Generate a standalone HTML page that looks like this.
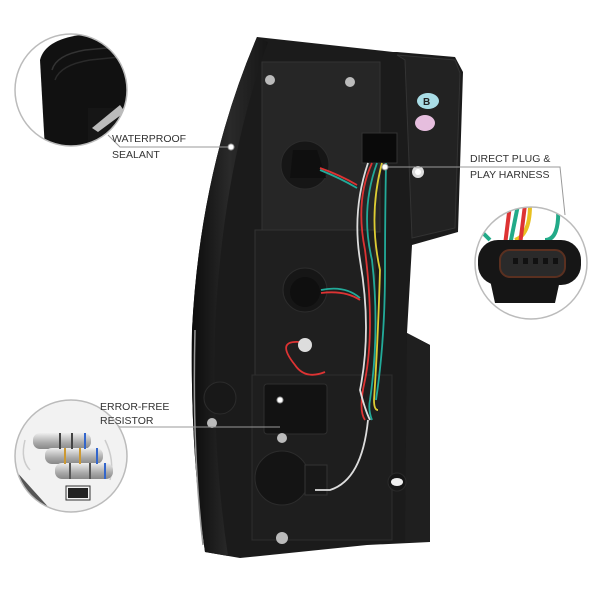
<!DOCTYPE html>
<html><head><meta charset="utf-8"><style>
html,body{margin:0;padding:0;background:#fff;width:600px;height:600px;overflow:hidden}
svg{display:block}
text{font-family:"Liberation Sans",sans-serif;font-size:10.5px;fill:#333}
</style></head><body>
<svg width="600" height="600" viewBox="0 0 600 600">
<defs>
<linearGradient id="lens" x1="0" x2="1"><stop offset="0" stop-color="#0c0c0c"/><stop offset="0.5" stop-color="#2a2a2a"/><stop offset="1" stop-color="#161616"/></linearGradient>
<linearGradient id="res" x1="0" x2="0" y1="0" y2="1"><stop offset="0" stop-color="#eee"/><stop offset="0.6" stop-color="#aaa"/><stop offset="1" stop-color="#888"/></linearGradient>
<clipPath id="k1"><circle cx="71" cy="90" r="56"/></clipPath>
<clipPath id="k2"><circle cx="531" cy="263" r="56"/></clipPath>
<clipPath id="k3"><circle cx="71" cy="456" r="56"/></clipPath>
</defs>
<!-- body -->
<path d="M257 37 L393 52 L397 52 L455 57 L463 72 L458 232 L412 245 L407 333 L430 345 L430 542 L367 545 L240 558 L205 552 Q190 450 192 330 Q200 170 257 37 Z" fill="#1b1b1b"/>
<path d="M205 552 Q190 450 192 330 Q200 170 257 37 L268 42 Q222 170 215 330 Q212 450 228 556 Z" fill="url(#lens)"/>
<path d="M203 545 Q192 450 195 330" stroke="#999" stroke-width="1.5" fill="none"/>
<path d="M397 55 L455 60 L460 73 L455 228 L412 238 L405 60 Z" fill="#222" stroke="#333"/>
<path d="M407 333 L430 345 L430 542 L405 542 Z" fill="#1f1f1f"/>
<rect x="262" y="62" width="118" height="170" fill="#262626" stroke="#333"/>
<rect x="255" y="230" width="120" height="145" fill="#1f1f1f" stroke="#333"/>
<rect x="252" y="375" width="140" height="165" fill="#1e1e1e" stroke="#2e2e2e"/>
<circle cx="305" cy="165" r="24" fill="#161616" stroke="#2c2c2c"/>
<path d="M293 150 L317 150 L326 178 L290 178 Z" fill="#0f0f0f"/>
<circle cx="305" cy="290" r="22" fill="#161616" stroke="#2c2c2c"/>
<circle cx="305" cy="292" r="15" fill="#0f0f0f"/>
<circle cx="282" cy="478" r="27" fill="#141414" stroke="#2c2c2c"/>
<rect x="305" y="465" width="22" height="30" fill="#181818" stroke="#333"/>
<rect x="264" y="384" width="63" height="50" rx="3" fill="#121212" stroke="#2f2f2f"/>
<circle cx="220" cy="398" r="16" fill="#181818" stroke="#2c2c2c"/>
<ellipse cx="428" cy="101" rx="11" ry="8" fill="#a9dde6"/>
<text x="423" y="105" style="font-size:10px;font-weight:bold;fill:#222">B</text>
<ellipse cx="425" cy="123" rx="10" ry="8" fill="#e6bede"/>
<rect x="362" y="133" width="35" height="30" fill="#0a0a0a" stroke="#333"/>
<!-- wires -->
<g fill="none" stroke-width="1.8">
<path d="M372 163 Q355 200 365 250 Q375 330 365 380 Q358 410 365 420" stroke="#d33"/>
<path d="M377 163 Q360 210 372 260 Q380 330 370 400 Q368 410 372 420" stroke="#2a9"/>
<path d="M382 163 Q368 215 380 270 Q378 340 374 400 Q374 410 378 410" stroke="#dc3"/>
<path d="M368 163 Q352 210 360 260 Q372 330 360 390 Q365 410 370 420" stroke="#ddd"/>
<path d="M386 163 Q385 220 385 270 Q385 340 376 400" stroke="#2a9"/>
<path d="M320 168 Q340 175 357 185" stroke="#d33"/>
<path d="M320 170 Q340 178 357 188" stroke="#2a9"/>
<path d="M321 290 Q345 285 360 298" stroke="#2a9"/>
<path d="M321 293 Q345 290 360 300" stroke="#d33"/>
<path d="M300 342 Q275 340 295 365 Q305 380 325 372" stroke="#d33"/>
<path d="M368 420 Q362 480 330 490 L315 490" stroke="#ddd"/>
</g>
<circle cx="305" cy="345" r="7" fill="#ddd"/>
<g fill="#bbb"><circle cx="270" cy="80" r="5"/><circle cx="350" cy="82" r="5"/><circle cx="212" cy="423" r="5"/><circle cx="282" cy="438" r="5"/><circle cx="282" cy="538" r="6"/></g>
<circle cx="397" cy="482" r="9" fill="#151515" stroke="#2a2a2a"/>
<ellipse cx="397" cy="482" rx="6" ry="4" fill="#eee"/>
<circle cx="418" cy="172" r="6" fill="#ddd"/><circle cx="418" cy="172" r="3" fill="#fff"/>
<!-- leader lines -->
<g stroke="#999" stroke-width="1" fill="none">
<path d="M108 135 L120 147 L230 147"/>
<path d="M385 167 L560 167 L565 215"/>
<path d="M110 420 L120 427 L280 427"/>
</g>
<g fill="#fff" stroke="#999"><circle cx="231" cy="147" r="3"/><circle cx="385" cy="167" r="3"/><circle cx="280" cy="400" r="3"/></g>
<!-- callout 1 -->
<circle cx="71" cy="90" r="56" fill="#fff"/>
<g clip-path="url(#k1)">
<path d="M40 60 Q45 40 80 35 L140 30 L140 150 L45 150 Z" fill="#111"/>
<path d="M52 70 Q56 55 85 50 L140 45" stroke="#333" stroke-width="1.5" fill="none"/>
<path d="M55 80 Q60 65 90 60 L140 55" stroke="#2a2a2a" stroke-width="1.5" fill="none"/>
<path d="M88 108 L130 108 L130 150 L88 150 Z" fill="#1a1a1a" opacity="0.6"/>
<path d="M92 128 L120 105 L125 112 L98 132 Z" fill="#bbb"/>
</g>
<circle cx="71" cy="90" r="56" fill="none" stroke="#bbb" stroke-width="1.5"/>
<!-- callout 2 -->
<circle cx="531" cy="263" r="56" fill="#fff"/>
<g clip-path="url(#k2)">
<g fill="none" stroke-width="4">
<path d="M505 245 L510 205" stroke="#d33"/><path d="M510 245 L518 205" stroke="#2a8"/>
<path d="M515 240 Q530 235 530 205" stroke="#e8c020"/><path d="M520 245 L525 205" stroke="#d33"/>
<path d="M545 240 Q560 240 558 205" stroke="#2a8"/><path d="M490 240 L480 230" stroke="#2a8"/>
</g>
<rect x="478" y="240" width="103" height="45" rx="20" fill="#161616"/>
<rect x="500" y="250" width="65" height="27" rx="10" fill="#2a2a2a" stroke="#5a3020" stroke-width="2"/>
<g fill="#111"><rect x="513" y="258" width="5" height="6"/><rect x="523" y="258" width="5" height="6"/><rect x="533" y="258" width="5" height="6"/><rect x="543" y="258" width="5" height="6"/><rect x="553" y="258" width="5" height="6"/></g>
<path d="M490 280 L560 280 L555 303 L495 303 Z" fill="#151515"/>
</g>
<circle cx="531" cy="263" r="56" fill="none" stroke="#bbb" stroke-width="1.5"/>
<!-- callout 3 -->
<circle cx="71" cy="456" r="56" fill="#f2f2f2"/>
<g clip-path="url(#k3)">
<path d="M15 470 L60 520 L50 520 L15 480 Z" fill="#555"/>
<g stroke="#ccc" stroke-width="1.5" fill="none"><path d="M25 440 Q20 460 30 470"/><path d="M105 440 Q115 460 110 480"/></g>
<rect x="33" y="433" width="58" height="16" rx="7" fill="url(#res)"/>
<rect x="45" y="448" width="58" height="16" rx="7" fill="url(#res)"/>
<rect x="55" y="463" width="58" height="16" rx="7" fill="url(#res)"/>
<g stroke-width="2"><path d="M60 433 V449 M72 433 V449" stroke="#444"/><path d="M85 433 V449" stroke="#36c"/>
<path d="M65 448 V464 M80 448 V464" stroke="#c93"/><path d="M97 448 V464" stroke="#36c"/>
<path d="M70 463 V479 M90 463 V479" stroke="#555"/><path d="M105 463 V479" stroke="#36c"/></g>
<rect x="68" y="488" width="20" height="10" fill="#222"/>
<rect x="66" y="486" width="24" height="14" fill="none" stroke="#333"/>
</g>
<circle cx="71" cy="456" r="56" fill="none" stroke="#bbb" stroke-width="1.5"/>
<text x="112" y="142">WATERPROOF</text><text x="112" y="158">SEALANT</text>
<text x="470" y="162">DIRECT PLUG &amp;</text><text x="470" y="178">PLAY HARNESS</text>
<text x="100" y="410">ERROR-FREE</text><text x="100" y="424">RESISTOR</text>
</svg>
</body></html>
